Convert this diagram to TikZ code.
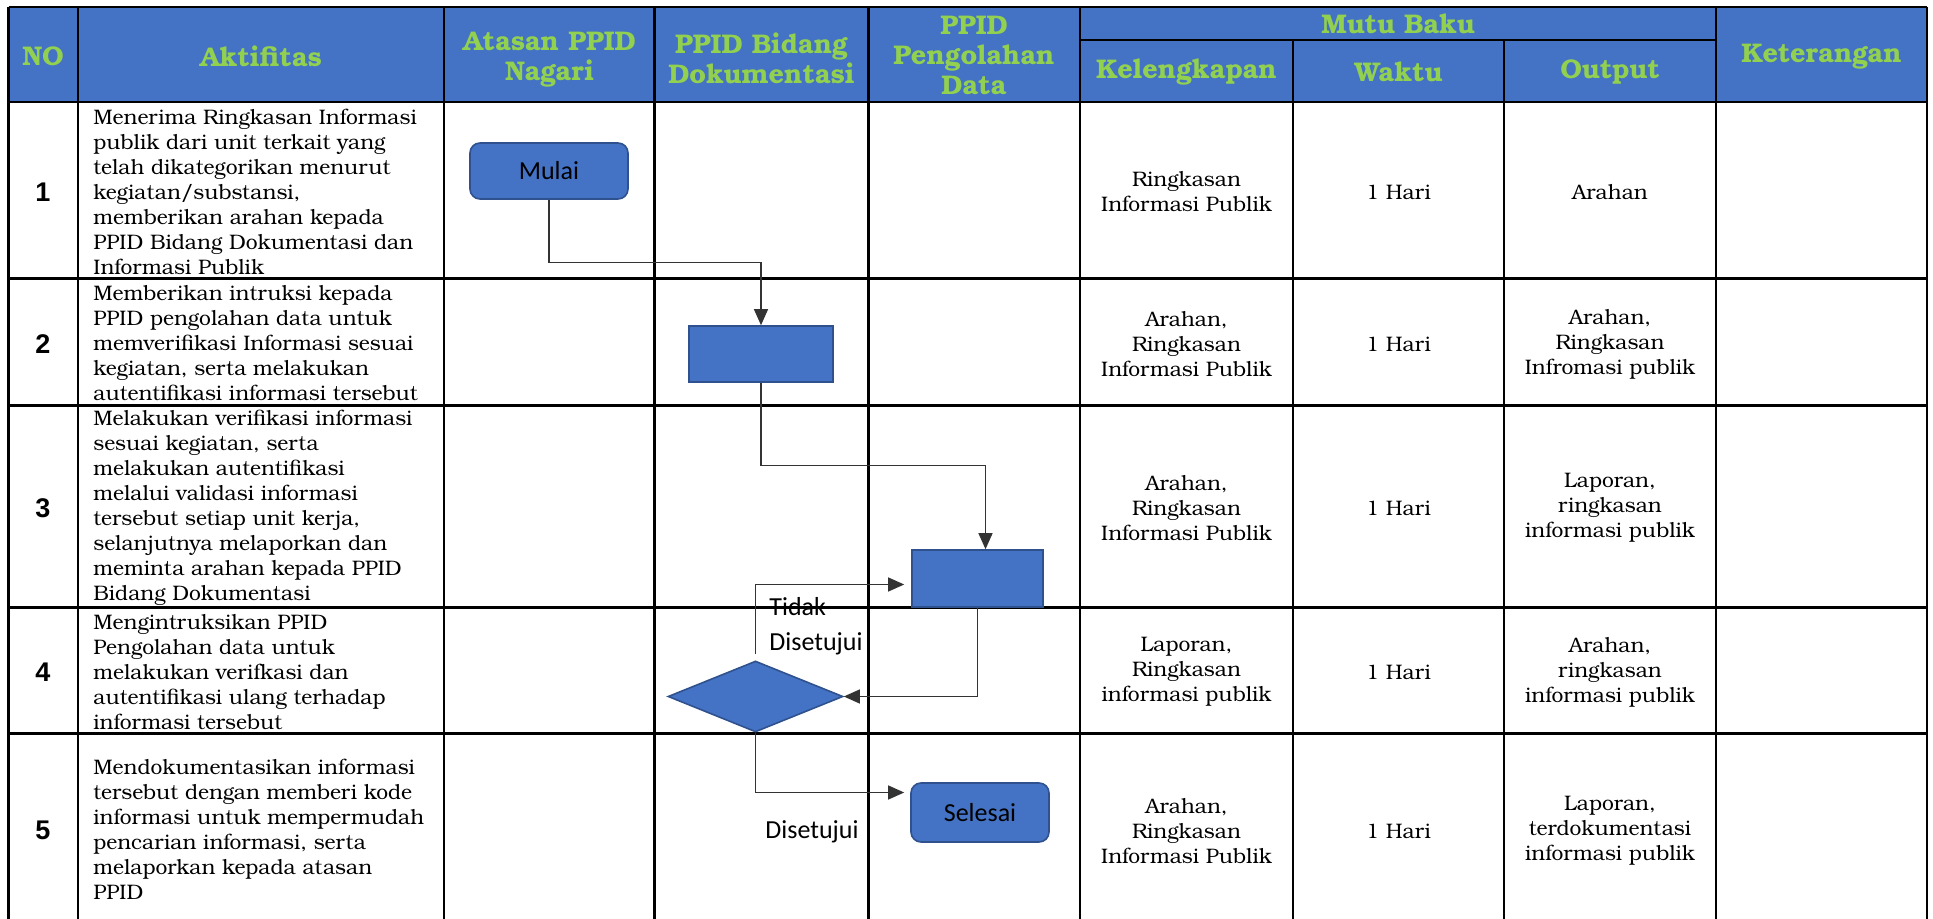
\documentclass[tikz,border=0pt]{standalone}
\usepackage{fontspec}
\setmainfont{TeX Gyre Bonum}
\newfontfamily\flowfont{Carlito}
\newfontfamily\numfont{Liberation Sans}
\usetikzlibrary{arrows.meta,shapes.geometric}
\definecolor{headblue}{HTML}{4472C4}
\definecolor{headgreen}{HTML}{92D050}
\definecolor{shapeline}{HTML}{2F528F}
\tikzset{x=0.5pt, y=-0.5pt, % One unit is one pixel of the sheet, y runs downwards
        rule/.style={ % Lines of the table
            line width=1.3pt},
        head/.style={ % Green titles in the blue header
            text=headgreen,
            font=\bfseries\fontsize{13.5}{15}\selectfont,
            align=center,
            inner sep=0pt},
        cell/.style={ % Centred text of the Mutu Baku columns
            font=\fontsize{10.5}{12.5}\selectfont,
            align=center,
            inner sep=0pt},
        task/.style={ % Left aligned text of the Aktifitas column
            font=\fontsize{10.5}{12.5}\selectfont,
            align=left,
            anchor=west,
            inner sep=0pt},
        num/.style={ % Row numbers
            font=\numfont\bfseries\fontsize{13.5}{15}\selectfont},
        terminal/.style={ % Start and end of the flow
            rectangle,
            rounded corners=5pt,
            draw=shapeline,
            fill=headblue,
            line width=0.8pt,
            font=\flowfont\fontsize{13}{16}\selectfont},
        process/.style={ % Plain steps
            rectangle,
            draw=shapeline,
            fill=headblue,
            line width=0.8pt},
        decision/.style={ % The check
            diamond,
            draw=shapeline,
            fill=headblue,
            line width=0.8pt,
            inner sep=0pt},
        flow/.style={ % Connectors between the steps
            draw=black!80,
            line width=0.6pt,
            -{Triangle[length=8pt,width=7pt]}},
        note/.style={ % Labels on the connectors
            font=\flowfont\fontsize{13}{17.5}\selectfont,
            align=left,
            anchor=west,
            inner sep=0pt}
        }

\begin{document}
\begin{tikzpicture}
    \useasboundingbox (0,0) rectangle (1933,919);

    % header
    \fill[headblue] (8.5,7) rectangle (1927,102);
    \draw[rule] (8.5,7) -- (1927,7);
    \draw[rule] (1080,40) -- (1716,40);
    \draw[rule] (8.5,102) -- (1927,102);
    \draw[rule] (8.5,278.5) -- (1927,278.5);
    \draw[rule] (8.5,405.5) -- (1927,405.5);
    \draw[rule] (8.5,607.5) -- (1927,607.5);
    \draw[rule] (8.5,733.5) -- (1927,733.5);
    \draw[rule] (8.5,7) -- (8.5,919);
    \draw[rule] (78,7) -- (78,919);
    \draw[rule] (444,7) -- (444,919);
    \draw[rule] (654.5,7) -- (654.5,919);
    \draw[rule] (868.5,7) -- (868.5,919);
    \draw[rule] (1080,7) -- (1080,919);
    \draw[rule] (1293,40) -- (1293,919);
    \draw[rule] (1504,40) -- (1504,919);
    \draw[rule] (1716,7) -- (1716,919);
    \draw[rule] (1927,7) -- (1927,919);

    \node[head] (hno) at (43,56) {NO};
    \node[head] (hakt) at (261,56) {Aktifitas};
    \node[head] (hatasan) at (549.5,60) {Atasan PPID\\Nagari};
    \node[head] (hbidang) at (761.5,58) {PPID Bidang\\Dokumentasi};
    \node[head] (holah) at (974,55) {PPID\\Pengolahan\\Data};
    \node[head] (hmutu) at (1398,24) {Mutu Baku};
    \node[head] (hkel) at (1186.5,72) {Kelengkapan};
    \node[head] (hwaktu) at (1398.5,72) {Waktu};
    \node[head] (hout) at (1610,72) {Output};
    \node[head] (hket) at (1821.5,57) {Keterangan};

    % rows
    \node[num] (no1) at (43,192) {1};
    \node[num] (no2) at (43,344) {2};
    \node[num] (no3) at (43,508) {3};
    \node[num] (no4) at (43,672) {4};
    \node[num] (no5) at (43,830) {5};

    \node[task] (akt1) at (93,192) {Menerima Ringkasan Informasi\\publik dari unit terkait yang\\telah dikategorikan menurut\\kegiatan/substansi,\\memberikan arahan kepada\\PPID Bidang Dokumentasi dan\\Informasi Publik};
    \node[task] (akt2) at (93,343) {Memberikan intruksi kepada\\PPID pengolahan data untuk\\memverifikasi Informasi sesuai\\kegiatan, serta melakukan\\autentifikasi informasi tersebut};
    \node[task] (akt3) at (93,508) {Melakukan verifikasi informasi\\sesuai kegiatan, serta\\melakukan autentifikasi\\melalui validasi informasi\\tersebut setiap unit kerja,\\selanjutnya melaporkan dan\\meminta arahan kepada PPID\\Bidang Dokumentasi};
    \node[task] (akt4) at (93,672) {Mengintruksikan PPID\\Pengolahan data untuk\\melakukan verifkasi dan\\autentifikasi ulang terhadap\\informasi tersebut};
    \node[task] (akt5) at (93,829) {Mendokumentasikan informasi\\tersebut dengan memberi kode\\informasi untuk mempermudah\\pencarian informasi, serta\\melaporkan kepada atasan\\PPID};

    \node[cell] (kel1) at (1186.5,192) {Ringkasan\\Informasi Publik};
    \node[cell] (kel2) at (1186.5,344) {Arahan,\\Ringkasan\\Informasi Publik};
    \node[cell] (kel3) at (1186.5,508) {Arahan,\\Ringkasan\\Informasi Publik};
    \node[cell] (kel4) at (1186.5,672) {Laporan,\\Ringkasan\\informasi publik};
    \node[cell] (kel5) at (1186.5,831) {Arahan,\\Ringkasan\\Informasi Publik};

    \node[cell] (wkt1) at (1398.5,192) {1 Hari};
    \node[cell] (wkt2) at (1398.5,344) {1 Hari};
    \node[cell] (wkt3) at (1398.5,508) {1 Hari};
    \node[cell] (wkt4) at (1398.5,672) {1 Hari};
    \node[cell] (wkt5) at (1398.5,831) {1 Hari};

    \node[cell] (out1) at (1610,192) {Arahan};
    \node[cell] (out2) at (1610,344) {Arahan,\\Ringkasan\\Infromasi publik};
    \node[cell] (out3) at (1610,508) {Laporan,\\ringkasan\\informasi publik};
    \node[cell] (out4) at (1610,672) {Arahan,\\ringkasan\\informasi publik};
    \node[cell] (out5) at (1610,831) {Laporan,\\terdokumentasi\\informasi publik};

    % flow
    \node[terminal, minimum width=79pt, minimum height=28pt] (mulai) at (549,171) {Mulai};
    \node[process, minimum width=72pt, minimum height=28pt] (dok) at (761,354) {};
    \node[process, minimum width=65.5pt, minimum height=28.5pt] (olah) at (977.5,578.5) {};
    \node[decision, minimum width=87.5pt, minimum height=35.5pt] (cek) at (755.5,696.5) {};
    \node[terminal, minimum width=69pt, minimum height=29.5pt] (selesai) at (980,812.5) {Selesai};

    \draw[flow] (mulai.south) -- ++(0,63) -| (dok.north);
    \draw[flow] (dok.south) -- ++(0,83) -| ([xshift=4pt]olah.north);
    \draw[flow] (olah.south) |- (cek.east);
    \draw[flow, shorten >=3.5pt] ([yshift=3pt]cek.north) |- ([yshift=-3pt]olah.west);
    \draw[flow, shorten >=3pt] (cek.south) |- ([yshift=10pt]selesai.west);

    \node[note] (tidak) at (769,626) {Tidak\\Disetujui};
    \node[note] (setuju) at (765,832) {Disetujui};
\end{tikzpicture}
\end{document}
